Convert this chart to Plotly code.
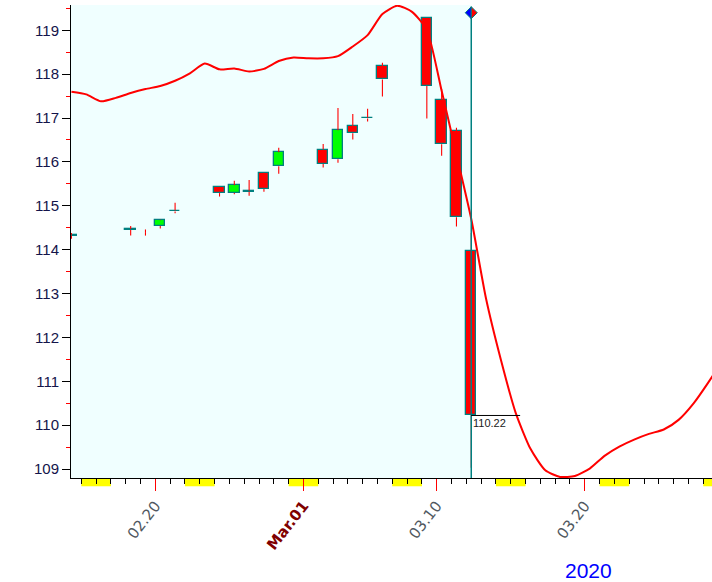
import datetime as dt
import plotly.graph_objects as go

# ---------------- data ----------------
dates = ["2020-02-14", "2020-02-18", "2020-02-19", "2020-02-20", "2020-02-21",
         "2020-02-24", "2020-02-25", "2020-02-26", "2020-02-27", "2020-02-28",
         "2020-03-02", "2020-03-03", "2020-03-04", "2020-03-05", "2020-03-06",
         "2020-03-09", "2020-03-10", "2020-03-11", "2020-03-12"]
opens = [114.34, 114.47, 114.40, 114.54, 114.89, 115.42, 115.29, 115.34, 115.74, 115.90,
         116.28, 116.06, 116.81, 117.01, 118.18, 119.27, 117.41, 116.70, 113.97]
highs = [114.38, 114.54, 114.46, 114.68, 115.07, 115.43, 115.57, 115.59, 115.75, 116.32,
         116.41, 117.23, 117.09, 117.21, 118.26, 119.28, 117.66, 116.78, 114.38]
lows = [114.25, 114.32, 114.32, 114.48, 114.83, 115.21, 115.26, 115.23, 115.32, 115.73,
        115.87, 115.98, 116.51, 116.92, 117.49, 116.99, 116.14, 114.53, 109.03]
closes = [114.32, 114.45, 114.40, 114.67, 114.87, 115.29, 115.47, 115.32, 115.38, 116.22,
          115.95, 116.72, 116.65, 116.99, 117.88, 117.73, 116.40, 114.74, 110.22]

ma_start = "2020-02-14"
ma_values = [117.60, 117.54, 117.38, 117.46, 117.57, 117.66, 117.73, 117.85, 118.02, 118.24,
             118.11, 118.13, 118.06, 118.12, 118.30, 118.38, 118.36, 118.36, 118.41, 118.63,
             118.89, 119.37, 119.56, 119.42, 119.01, 117.62, 116.17, 114.70, 112.88, 111.49,
             110.28, 109.46, 108.97, 108.82, 108.84, 109.01, 109.30, 109.51, 109.67, 109.80,
             109.90, 110.12, 110.49, 110.97, 111.49]

tick_dates = ["2020-02-20", "2020-03-01", "2020-03-10", "2020-03-20"]
tick_labels = ["02.20", '<span style="color:#800000"><b>Mar.01</b></span>', "03.10", "03.20"]
year_label = "2020"
last_price_label = "110.22"

x_range = ["2020-02-14 07:18", "2020-03-28 14:10"]
y_range = [108.795, 119.576]
marker_level = 119.40

# ---------------- helpers ----------------
OFFSET = dt.timedelta(hours=8)
DAY_MS = 86400000


def d(s):
    return dt.datetime.fromisoformat(s)


cx = [d(s) + OFFSET for s in dates]

fig = go.Figure()

# wicks (upper and lower segments, red)
wx, wy = [], []
for x, o, h, l, c in zip(cx, opens, highs, lows, closes):
    top, bot = max(o, c), min(o, c)
    wx += [x, x, None, x, x, None]
    wy += [h, top, None, bot, l, None]
fig.add_trace(go.Scatter(x=wx, y=wy, mode="lines",
                         line=dict(color="#ff0000", width=1.1),
                         hoverinfo="skip", showlegend=False))

# bodies (zero-height bodies are left undrawn, as in the reference)
body_x = [x for x, o, c in zip(cx, opens, closes) if c != o]
base = [min(o, c) for o, c in zip(opens, closes) if c != o]
size = [abs(c - o) for o, c in zip(opens, closes) if c != o]
colors = ["#00ff00" if c > o else "#ff0000" for o, c in zip(opens, closes) if c != o]
fig.add_trace(go.Bar(x=body_x, y=size, base=base, width=0.7 * DAY_MS,
                     marker=dict(color=colors, line=dict(color="#008080", width=1.3)),
                     showlegend=False, hoverinfo="skip"))

# moving-average / forecast line
ma_x = [d(ma_start) + OFFSET + dt.timedelta(days=i) for i in range(len(ma_values))]
fig.add_trace(go.Scatter(x=ma_x, y=ma_values, mode="lines",
                         line=dict(color="#ff0000", width=2, shape="spline", smoothing=0.6),
                         hoverinfo="skip", showlegend=False))

cursor = cx[-1]
shapes = []
# history background
shapes.append(dict(type="rect", xref="x", yref="paper", x0=x_range[0], x1=cursor,
                   y0=0, y1=1, fillcolor="#f0ffff", line=dict(width=0), layer="below"))
# weekend markers under the axis
day = d("2020-02-10")
while day < d("2020-04-01"):
    if day.weekday() == 5:
        shapes.append(dict(type="rect", xref="x", yref="paper", x0=day,
                           x1=day + dt.timedelta(days=2), y0=-0.0175, y1=0,
                           fillcolor="#ffff00", line=dict(width=0), layer="below"))
    day += dt.timedelta(days=1)
# cursor line
shapes.append(dict(type="line", xref="x", yref="y", x0=cursor, x1=cursor,
                   y0=y_range[0], y1=marker_level, line=dict(color="#008080", width=1.5)))
# last close line
shapes.append(dict(type="line", xref="x", yref="y", x0=cursor,
                   x1=cursor + dt.timedelta(days=3.3), y0=closes[-1], y1=closes[-1],
                   line=dict(color="#000000", width=1)))
# half blue / half red diamond
shapes.append(dict(type="path", xref="x", yref="y", xsizemode="pixel", ysizemode="pixel",
                   xanchor=cursor, yanchor=marker_level, path="M0,-6 L-6,0 L0,6 Z",
                   fillcolor="#0000ff", line=dict(color="#008080", width=1)))
shapes.append(dict(type="path", xref="x", yref="y", xsizemode="pixel", ysizemode="pixel",
                   xanchor=cursor, yanchor=marker_level, path="M0,-6 L6,0 L0,6 Z",
                   fillcolor="#ff0000", line=dict(color="#008080", width=1)))

annotations = [
    dict(x=cursor, y=closes[-1], xref="x", yref="y", text=last_price_label,
         showarrow=False, xanchor="left", yanchor="top", xshift=0, yshift=0,
         font=dict(family="Arial", size=11, color="#202020")),
    dict(x=0.807, y=-0.196, xref="paper", yref="paper", text=year_label,
         showarrow=False, xanchor="center", yanchor="middle",
         font=dict(family="Arial", size=21, color="#0000ff")),
]

fig.update_layout(
    width=712, height=582,
    margin=dict(l=71, r=0, t=5, b=104),
    paper_bgcolor="#ffffff", plot_bgcolor="#ffffff",
    shapes=shapes, annotations=annotations,
    bargap=0, showlegend=False,
    xaxis=dict(type="date", range=x_range, showgrid=False, zeroline=False,
               automargin=False,
               showline=True, linecolor="#000000", linewidth=1,
               ticks="outside", ticklen=12, tickcolor="#ff0000", tickwidth=1,
               tickvals=tick_dates, ticktext=tick_labels, tickangle=-52,
               tickfont=dict(family="DejaVu Sans", size=15, color="#505860"),
               minor=dict(dtick=DAY_MS, tick0="2020-02-14", ticks="outside",
                          ticklen=5, tickcolor="#000000", tickwidth=1, showgrid=False),
               fixedrange=True),
    yaxis=dict(range=y_range, showgrid=False, zeroline=False,
               automargin=False,
               showline=True, linecolor="#000000", linewidth=1,
               ticks="outside", ticklen=8, tickcolor="#000000", tickwidth=1,
               dtick=1, tick0=109,
               tickfont=dict(family="Arial", size=15, color="#14144a"),
               minor=dict(dtick=0.5, ticks="outside", ticklen=4, tickcolor="#ff0000",
                          tickwidth=1, showgrid=False),
               fixedrange=True),
)

fig.write_html("out.html", config={"displayModeBar": False},
               post_script="document.body.style.margin='0';document.body.style.overflow='hidden';")
